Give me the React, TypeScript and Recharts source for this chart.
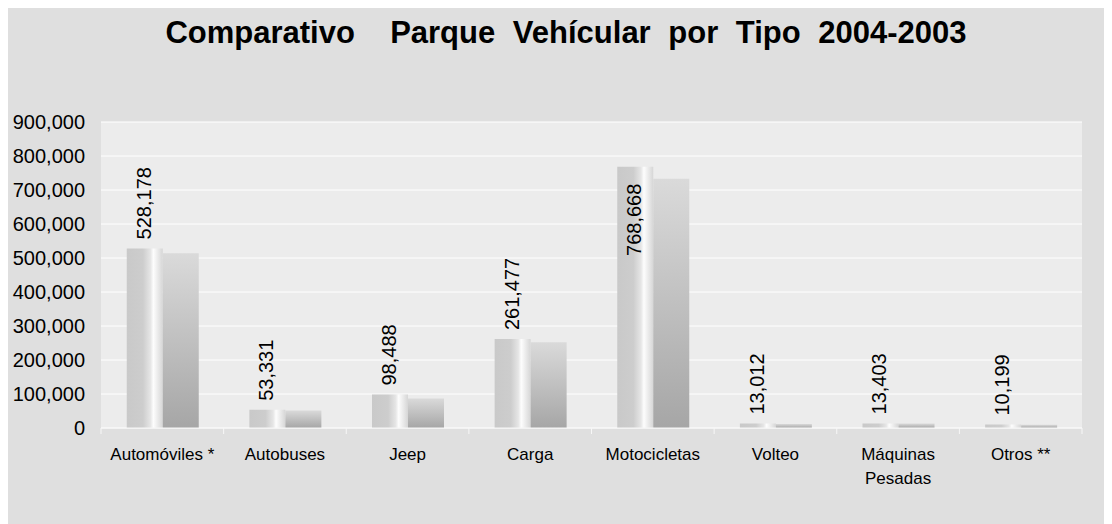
import React from 'react';
import { BarChart, Bar, XAxis, YAxis, CartesianGrid, LabelList } from 'recharts';

const categories = ['Automóviles *', 'Autobuses', 'Jeep', 'Carga', 'Motocicletas', 'Volteo', 'Máquinas Pesadas', 'Otros **'];
const values2004 = [528178, 53331, 98488, 261477, 768668, 13012, 13403, 10199];
const values2003 = [514000, 51500, 87000, 252000, 733000, 12000, 13000, 9500];
const yTicks = [0, 100000, 200000, 300000, 400000, 500000, 600000, 700000, 800000, 900000];

const W = 1104;
const H = 519;
const margin = { top: 117, right: 30, left: 0, bottom: 0 };
const yAxisWidth = 93;
const xAxisHeight = 96;
const plotTop = margin.top;
const plotWidth = W - margin.left - margin.right - yAxisWidth;
const band = plotWidth / categories.length;

const font = '"Liberation Sans", Arial, sans-serif';

const data = categories.map((name, i) => ({
  name,
  y2004: values2004[i],
  y2003: values2003[i],
}));

const fmt = (v: number) => v.toLocaleString('en-US');

function CategoryTick(props: any) {
  const { x, y, payload, index } = props;
  const label: string = payload.value;
  const lines = label.length > 14 ? label.split(' ') : [label];
  const left = x - band / 2;
  return (
    <g>
      <line x1={left} y1={y} x2={left} y2={y + 6} stroke="#f7f7f7" strokeWidth={1} />
      {index === categories.length - 1 && (
        <line x1={left + band} y1={y} x2={left + band} y2={y + 6} stroke="#f7f7f7" strokeWidth={1} />
      )}
      <text x={x} y={y + 32} textAnchor="middle" fontSize={17} fontFamily={font} fill="#000">
        {lines.map((l, i) => (
          <tspan key={i} x={x} dy={i === 0 ? 0 : 24}>
            {l}
          </tspan>
        ))}
      </text>
    </g>
  );
}

function ValueLabel(props: any) {
  const { x, y, width, value } = props;
  const text = fmt(Number(value));
  const cx = x + width / 2 - 1;
  const textLen = text.length * 0.52 * 20;
  const inside = y - 9 - textLen < plotTop;
  const ty = inside ? y + 17 : y - 9;
  return (
    <text
      x={cx}
      y={ty}
      transform={`rotate(-90 ${cx} ${ty})`}
      textAnchor={inside ? 'end' : 'start'}
      dominantBaseline="central"
      fontSize={20}
      fontFamily={font}
      fill="#000"
    >
      {text}
    </text>
  );
}

export default function App() {
  return (
    <div style={{ position: 'relative', top: -3, width: W, height: H, background: '#dfdfdf' }}>
      <svg width={W} height={60} style={{ position: 'absolute', left: 0, top: 0 }}>
        <text
          x={W / 2 + 6}
          y={38}
          textAnchor="middle"
          fontSize={31}
          fontWeight="bold"
          fontFamily={font}
          fill="#000"
          style={{ whiteSpace: 'pre' }}
          xmlSpace="preserve"
          wordSpacing={9}
        >
          {'Comparativo  Parque Vehícular por Tipo 2004-2003'}
        </text>
      </svg>
      <BarChart
        width={W}
        height={H}
        data={data}
        margin={margin}
        barCategoryGap="21%"
        barGap={0}
      >
        <defs>
          <linearGradient id="g2004" x1="0" y1="0" x2="1" y2="0">
            <stop offset="0" stopColor="#c9c9c9" />
            <stop offset="0.45" stopColor="#cdcdcd" />
            <stop offset="0.66" stopColor="#e6e6e6" />
            <stop offset="0.74" stopColor="#fdfdfd" />
            <stop offset="0.8" stopColor="#f4f4f4" />
            <stop offset="1" stopColor="#d6d6d6" />
          </linearGradient>
          <linearGradient id="g2003" x1="0" y1="0" x2="0" y2="1">
            <stop offset="0" stopColor="#dadada" />
            <stop offset="1" stopColor="#a6a6a6" />
          </linearGradient>
        </defs>
        <CartesianGrid vertical={false} stroke="#ffffff" fill="#ececec" />
        <XAxis
          dataKey="name"
          height={xAxisHeight}
          tickLine={false}
          tickSize={0}
          tickMargin={0}
          axisLine={{ stroke: '#f7f7f7' }}
          tick={<CategoryTick />}
          interval={0}
        />
        <YAxis
          width={yAxisWidth}
          domain={[0, 900000]}
          ticks={yTicks}
          tickFormatter={fmt}
          tickLine={false}
          axisLine={false}
          tickSize={0}
          tickMargin={16}
          tick={{ fontSize: 20, fontFamily: font, fill: '#000' }}
        />
        <Bar dataKey="y2004" fill="url(#g2004)" isAnimationActive={false}>
          <LabelList dataKey="y2004" content={<ValueLabel />} />
        </Bar>
        <Bar dataKey="y2003" fill="url(#g2003)" isAnimationActive={false} />
      </BarChart>
    </div>
  );
}
